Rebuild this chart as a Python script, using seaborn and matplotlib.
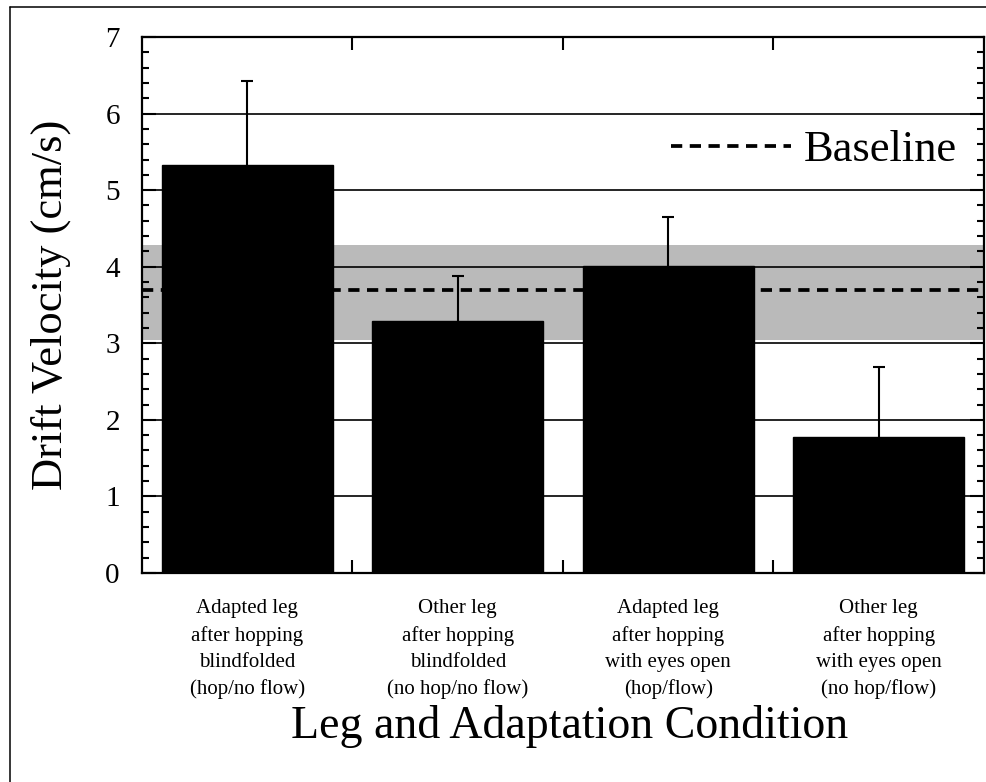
import matplotlib
matplotlib.use("Agg")
import matplotlib.pyplot as plt
from matplotlib.lines import Line2D
from matplotlib.ticker import MultipleLocator, FixedLocator
import numpy as np
import pandas as pd
import seaborn as sns

# values
conditions = [
    "Adapted leg\nafter hopping\nblindfolded\n(hop/no flow)",
    "Other leg\nafter hopping\nblindfolded\n(no hop/no flow)",
    "Adapted leg\nafter hopping\nwith eyes open\n(hop/flow)",
    "Other leg\nafter hopping\nwith eyes open\n(no hop/flow)",
]
velocity = [5.33, 3.29, 4.01, 1.78]
error_up = [1.09, 0.59, 0.64, 0.91]
baseline = 3.69
baseline_band = (3.04, 4.29)
grid_levels = [1, 2, 3, 4, 5, 6]

sns.set_theme(style="ticks")
plt.rcParams["font.family"] = ["Liberation Serif", "DejaVu Serif"]
plt.rcParams["text.color"] = "black"
plt.rcParams["axes.labelcolor"] = "black"
plt.rcParams["xtick.color"] = "black"
plt.rcParams["ytick.color"] = "black"

df = pd.DataFrame({"condition": conditions, "velocity": velocity})

fig = plt.figure(figsize=(9.87, 7.82), dpi=100)
ax = fig.add_axes([142 / 987, 1 - 573 / 782, (984 - 142) / 987, (573 - 37) / 782])

sns.barplot(data=df, x="condition", y="velocity", color="black", width=0.81,
            saturation=1, errorbar=None, ax=ax)
for p in ax.containers[0]:
    p.set_edgecolor("black")
    p.set_zorder(2)

# grey baseline band, grid lines, dashed baseline (all behind the bars)
ax.axhspan(*baseline_band, color="#bababa", lw=0, zorder=0.5)
for g in grid_levels:
    ax.axhline(g, color="black", lw=1.2, zorder=1)
ax.axhline(baseline, color="black", lw=2.7, dashes=(3.0, 2.0), zorder=1.5,
           label="Baseline")

# upper error bars only
xpos = np.arange(len(conditions))
eb = ax.errorbar(xpos, velocity, yerr=[np.zeros(len(velocity)), error_up], fmt="none",
                 ecolor="black", elinewidth=1.5, capsize=4.5, capthick=1.5, zorder=1.8)
eb[1][0].remove()  # drop the lower caps

ax.set_xlim(-0.5, 3.5)
ax.set_ylim(0, 7)

# ticks
ax.yaxis.set_major_locator(MultipleLocator(1))
ax.yaxis.set_minor_locator(MultipleLocator(0.2))
ax.tick_params(axis="y", which="major", direction="in", length=10, width=1.5,
               left=True, right=True, labelsize=21, pad=16)
ax.tick_params(axis="y", which="minor", direction="in", length=5, width=1.5,
               left=True, right=True)
ax.xaxis.set_minor_locator(FixedLocator([0.5, 1.5, 2.5]))
ax.tick_params(axis="x", which="major", length=0, labelsize=15, pad=19)
ax.tick_params(axis="x", which="minor", direction="in", length=9.5, width=1.5,
               bottom=True, top=True)
for lab in ax.get_xticklabels():
    lab.set_linespacing(1.5)
    lab.set_ha("center")

for s in ax.spines.values():
    s.set_visible(True)
    s.set_linewidth(1.6)
    s.set_color("black")
    s.set_zorder(4)

ax.set_xlabel("Leg and Adaptation Condition", fontsize=33)
ax.set_ylabel("Drift Velocity (cm/s)", fontsize=32)
ax.xaxis.set_label_coords(0.508, -0.247)
ax.yaxis.set_label_coords(-0.084, 0.5)

leg = ax.legend(loc="center right", bbox_to_anchor=(0.968, 0.789), frameon=False,
                fontsize=32, handlelength=2.7, handletextpad=0.3,
                borderpad=0, borderaxespad=0)

# figure border (left and top edges visible)
fig.add_artist(Line2D([9.5 / 987, 9.5 / 987], [0, 1 - 7 / 782],
                      transform=fig.transFigure, color="black", lw=1.1))
fig.add_artist(Line2D([9.5 / 987, 1], [1 - 7 / 782, 1 - 7 / 782],
                      transform=fig.transFigure, color="black", lw=1.1))

fig.savefig("out.png", dpi=100)
